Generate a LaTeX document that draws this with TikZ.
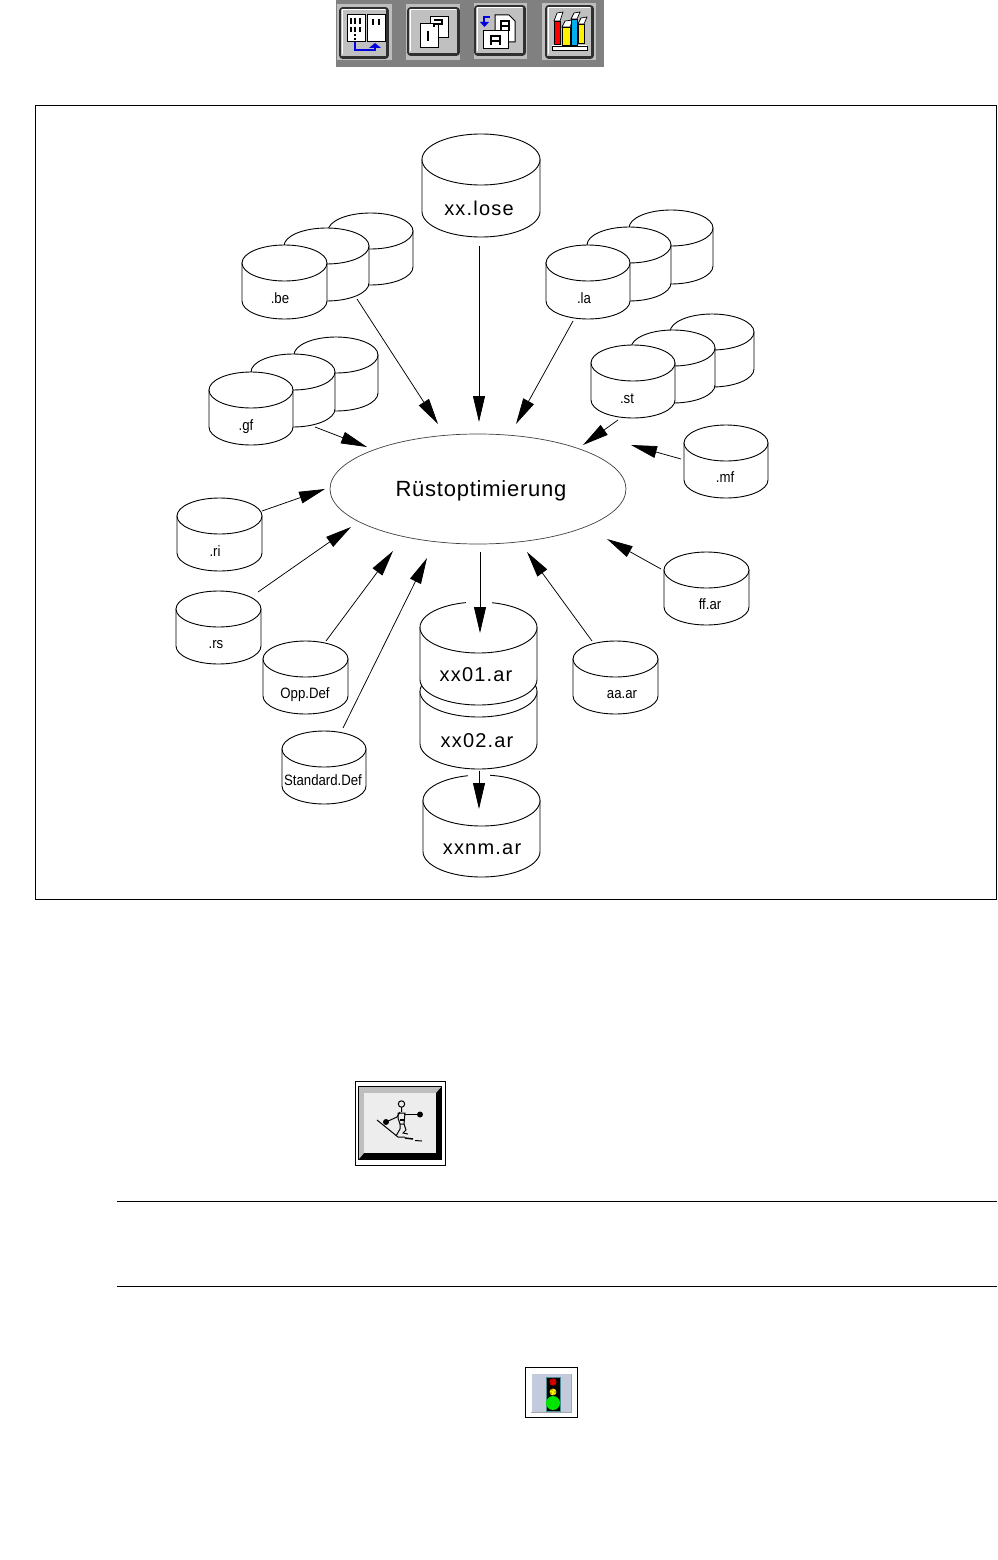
\documentclass[tikz,border=0pt]{standalone}
\usepackage{fontspec}
\setmainfont{Liberation Sans}
\newfontfamily\bigfont[LetterSpace=6]{Liberation Sans}
\newfontfamily\optfont[LetterSpace=3.5]{Liberation Sans}
\newfontfamily\smallfont[FakeStretch=0.88]{Liberation Sans}
\usetikzlibrary{arrows.meta,shapes.geometric}
\tikzset{
  cylline/.style={draw=black,fill=white,line width=0.9pt},
  cylbox/.style={inner sep=0pt,outer sep=0pt},
  arr/.style={draw=black,line width=0.75pt,-{Triangle[length=26pt,width=12pt]}},
  smalllab/.style={inner sep=0pt,font=\smallfont\fontsize{15}{17}\selectfont},
  biglab/.style={inner sep=0pt,font=\bigfont\fontsize{20}{24}\selectfont},
  ruleline/.style={draw=black,line width=0.8pt},
  btnface/.style={fill=btngray,draw=btndark,line width=1.6pt,rounded corners=2.5pt},
  btnshade/.style={draw=btndark,line width=2.4pt},
  btnhigh/.style={draw=white,line width=1pt},
  halo/.style={fill=btnhalo,draw=none},
  page/.style={fill=white,draw=black,line width=1pt},
  glyph/.style={draw=black,line width=1.4pt},
  bookline/.style={draw=black,line width=0.7pt},
  blueline/.style={draw=iconblue,line width=1.6pt},
  figline/.style={draw=black,line width=1pt}
}
\definecolor{btngray}{HTML}{C0C0C0}
\definecolor{btndark}{HTML}{303030}
\definecolor{btnhalo}{HTML}{BEBEBE}
\definecolor{barbg}{HTML}{808080}
\definecolor{iconblue}{HTML}{0000E0}
\definecolor{facelight}{HTML}{EDEDED}
\definecolor{bevel}{HTML}{BEBEBE}
\definecolor{tlblue}{HTML}{C3CADC}
\definecolor{tlteal}{HTML}{4F8C96}
\newcommand\cyl[6]{% name, left, right, top, bottom, ry
  \pgfmathsetmacro\cylcx{(#2+#3)/2}\pgfmathsetmacro\cylrx{(#3-#2)/2}
  \pgfmathsetmacro\cylya{#4+#6}\pgfmathsetmacro\cylyb{#5-#6}
  \pgfmathsetmacro\cylw{#3-#2}\pgfmathsetmacro\cylh{#5-#4}\pgfmathsetmacro\cylcy{(#4+#5)/2}
  \draw[cylline] (#2,\cylya) -- (#2,\cylyb) arc[start angle=180,end angle=0,x radius=\cylrx,y radius=#6] -- (#3,\cylya) -- cycle;
  \draw[cylline] (\cylcx,\cylya) ellipse[x radius=\cylrx,y radius=#6];
  \node[cylbox,minimum width=\cylw pt,minimum height=\cylh pt] (#1) at (\cylcx,\cylcy) {};
}
\newcommand\conn[6]{\draw[arr] ([shift={(#2,#3)}]#1.center) -- ([shift={(#5,#6)}]#4.center);}
\newcommand\btn[4]{% left top right bottom
  \path[btnface] (#1,#2) rectangle (#3,#4);
  \draw[btnhigh] ({#1+2},{#4-4}) -- ({#1+2},{#2+2}) -- ({#3-3},{#2+2});
  \draw[btnshade] ({#1+1},{#4-1}) -- ({#3-1},{#4-1}) -- ({#3-1},{#2+1});
}
\begin{document}
\begin{tikzpicture}[x=1pt,y=-1pt]
\useasboundingbox (0,0) rectangle (997,1560);
\fill[white] (0,0) rectangle (997,1560);

% toolbar
\fill[barbg] (336,0) rectangle (604,67);
\fill[halo] (337,4) rectangle (392,60);
\fill[halo] (406,4) rectangle (460,60);
\fill[halo] (474,3) rectangle (527,59);
\fill[halo] (542,3) rectangle (596,60);
\btn{340}{8}{388}{58}
\btn{408}{8}{459}{55}
\btn{475}{6}{525}{55}
\btn{546}{6}{593}{58}
% icon 1
\draw[page] (347,15) rectangle (365,42);
\draw[page] (367,15) rectangle (385,42);
\draw[glyph] (351,18) -- (351,24) (355,18) -- (355,24) (360,18) -- (360,24)
  (351,27) -- (351,32) (355,27) -- (355,32) (360,27) -- (360,32)
  (355,34) -- (355,36) (355,38) -- (355,40)
  (373,19) -- (373,25) (379,19) -- (379,25);
\draw[blueline] (355,42) -- (355,50) -- (375,50) -- (375,46);
\fill[iconblue] (369,48) -- (381,48) -- (375,43) -- cycle;
% icon 2
\draw[page] (430,17) rectangle (448,38);
\draw[page] (420,24) rectangle (438,48);
\draw[glyph] (434,20) -- (442,20) -- (442,24) -- (434,24) -- (434,27) (428,31) -- (428,41);
% icon 3
\draw[page] (495,15) -- (509,15) -- (515,21) -- (515,42) -- (495,42) -- cycle;
\draw[page] (483,31) rectangle (508,49);
\draw[glyph] (501,31) -- (501,21) -- (509,21) -- (509,31) (501,26) -- (509,26);
\draw[glyph] (491,45) -- (491,36) -- (500,36) -- (500,45) (491,41) -- (500,41);
\draw[blueline] (490,17) -- (484,17) -- (484,23);
\fill[iconblue] (480,22) -- (489,22) -- (484.5,27) -- cycle;
% icon 4
\fill[white] (552,45) rectangle (587,50);
\draw[bookline] (552,46) -- (587,46) -- (587,50) -- (552,50) -- cycle;
\draw[bookline,fill=red] (554,21) rectangle (560,44);
\draw[bookline,fill=white] (554,21) -- (557,13) -- (563,12) -- (560,21) -- cycle;
\draw[bookline,fill=yellow] (562,27) rectangle (570,45);
\draw[bookline,fill=white] (562,27) -- (565,21) -- (573,20) -- (570,27) -- cycle;
\draw[bookline,fill=cyan] (571,19) rectangle (577,45);
\draw[bookline,fill=white] (571,19) -- (574,13) -- (580,12) -- (577,19) -- cycle;
\draw[bookline,fill=yellow] (578,24) rectangle (584,43);
\draw[bookline,fill=white] (578,24) -- (581,18) -- (587,17) -- (584,24) -- cycle;

% frame
\draw[draw=black,line width=0.8pt] (35.5,105.5) rectangle (996.5,899.5);

% cylinders
\cyl{lose}{422}{540}{134}{237}{25.5}
\cyl{beC}{328}{413}{213}{285}{18}
\cyl{beB}{284}{369}{228}{301}{18}
\cyl{be}{242}{327}{245}{319}{18}
\cyl{gfC}{294}{378}{337}{411}{18}
\cyl{gfB}{251}{335}{354}{427}{18}
\cyl{gf}{209}{293}{372}{445}{18}
\cyl{laC}{629}{713}{210}{284}{18}
\cyl{laB}{587}{671}{227}{301}{18}
\cyl{la}{546}{630}{245}{319}{18}
\cyl{stC}{670}{754}{314}{387}{18}
\cyl{stB}{631}{715}{330}{403}{18}
\cyl{st}{591}{675}{345}{418}{18}
\cyl{mf}{684}{768}{425}{498}{18}
\cyl{ri}{177}{262}{498}{571}{18}
\cyl{rs}{176}{261}{591}{664}{18}
\cyl{opp}{263}{348}{641}{714}{18}
\cyl{std}{282}{366}{731}{804}{18}
\cyl{ff}{664}{749}{552}{625}{18}
\cyl{aa}{573}{658}{641}{714}{18}
\cyl{xxtwo}{420}{537}{666}{769}{25.5}
\cyl{xxone}{420}{537}{602}{705}{25.5}
\cyl{xxnm}{423}{540}{775}{877}{25.5}
\fill[white] (466,600) rectangle (492,605);
\fill[white] (468,773) rectangle (490,778);

% main ellipse
\node[draw=black!75,line width=0.7pt,ellipse,inner sep=0pt,minimum width=296pt,minimum height=110pt] (opt) at (478,489) {};
\node[inner sep=0pt,font=\optfont\fontsize{22}{26}\selectfont] (optlabel) at (481,490.5) {Rüstoptimierung};

% labels
\node[biglab] (loselabel) at (479,208.5) {xx.lose};
\node[biglab] (onelabel) at (476,674.5) {xx01.ar};
\node[biglab] (twolabel) at (477,740.5) {xx02.ar};
\node[biglab] (nmlabel) at (482,849) {xxnm.ar};
\node[smalllab] (belabel) at (280,298.5) {.be};
\node[smalllab] (gflabel) at (246,426.5) {.gf};
\node[smalllab] (lalabel) at (584,298.5) {.la};
\node[smalllab] (stlabel) at (627,398.5) {.st};
\node[smalllab] (mflabel) at (725,477.5) {.mf};
\node[smalllab] (rilabel) at (215,551.5) {.ri};
\node[smalllab] (rslabel) at (216,644.5) {.rs};
\node[smalllab] (opplabel) at (305,695) {Opp.Def};
\node[smalllab] (stdlabel) at (323,780.5) {Standard.Def};
\node[smalllab] (fflabel) at (710,604.5) {ff.ar};
\node[smalllab] (aalabel) at (622,694.5) {aa.ar};

% connectors
\conn{lose}{-2}{60.5}{opt}{1}{-67}
\conn{be}{72.5}{17}{opt}{-40}{-65}
\conn{gf}{64}{18.5}{opt}{-111}{-42}
\conn{la}{-15}{39}{opt}{38}{-65}
\conn{st}{-15}{38.5}{opt}{105}{-44}
\conn{mf}{-45}{-2.5}{opt}{153}{-44}
\conn{ri}{42.5}{-23.5}{opt}{-153}{0}
\conn{rs}{39.5}{-35.5}{opt}{-127}{38}
\conn{opp}{20.5}{-36.5}{opt}{-85}{62}
\conn{std}{19}{-39.5}{opt}{-51}{69}
\conn{ff}{-45.5}{-19.5}{opt}{129}{50}
\conn{aa}{-23.5}{-36.5}{opt}{49}{63}
\conn{opt}{2}{63}{xxone}{1.5}{-20.5}
\conn{xxtwo}{0.5}{53.5}{xxnm}{-2.5}{-17}

% skier button
\draw[draw=black,line width=0.8pt] (355.5,1081.5) rectangle (445.5,1165.5);
\fill[black] (358,1086) rectangle (442,1160);
\fill[bevel] (359,1087) -- (441,1087) -- (436,1093) -- (364,1093) -- (364,1153) -- (359,1159) -- cycle;
\fill[facelight] (364,1093) rectangle (436,1153);
\fill[black] (386,1122) circle (3pt) (420,1114.5) circle (3pt);
\draw[figline] (401.5,1104) circle (3.2pt);
\draw[figline] (377,1120) -- (398,1137) -- (405,1137);
\draw[figline,line width=1.5pt] (405,1138) -- (413,1139);
\draw[figline] (415,1140.5) -- (422,1141);
\draw[figline] (386,1122) -- (397,1117) -- (400,1112);
\draw[figline,line width=1.6pt] (404,1114.5) -- (420,1114.5);
\draw[figline] (398,1113) -- (398,1118) -- (400,1124) -- (404,1124) -- (405,1113) -- cycle;
\draw[figline,line width=1.4pt] (400,1120) -- (404,1120);
\draw[figline] (400,1124) -- (400,1129) -- (396,1136) (404,1124) -- (406,1130) -- (403,1133) -- (408,1134) (401.5,1107) -- (401.5,1112);

% rules
\draw[ruleline] (117,1201.5) -- (997,1201.5);
\draw[ruleline] (117,1286.5) -- (997,1286.5);

% traffic light button
\draw[draw=black,line width=0.8pt] (525.5,1367.5) rectangle (577,1417.5);
\fill[tlblue] (531,1373) rectangle (571,1412);
\draw[white,line width=1pt] (531,1412) -- (531,1373.5) -- (571,1373.5);
\draw[black!35,line width=1pt] (571,1374) -- (571,1412) -- (531,1412);
\draw[draw=tlteal,fill=black,line width=0.8pt] (546,1377) rectangle (560,1411);
\fill[red!90!black] (553,1382) circle (3.6pt);
\fill[yellow] (553,1392) circle (3.4pt);
\fill[black] (552,1380) circle (.6pt) (555,1382) circle (.6pt) (551,1383) circle (.6pt) (554,1385) circle (.6pt)
  (552,1390) circle (.6pt) (555,1392) circle (.6pt) (551,1393) circle (.6pt) (554,1395) circle (.6pt);
\fill[green!90!black] (553,1403) circle (7pt);
\end{tikzpicture}
\end{document}
